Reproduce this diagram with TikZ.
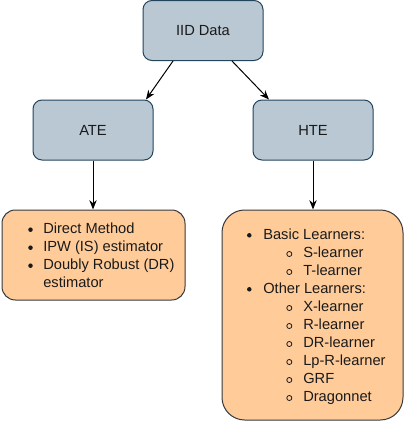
\documentclass[tikz,border=0pt]{standalone}
\usepackage{fontspec}
\setmainfont{Liberation Sans}
\usetikzlibrary{arrows.meta,calc}
\definecolor{bluebox}{HTML}{BAC8D3}
\definecolor{blueedge}{HTML}{23445D}
\definecolor{orangebox}{HTML}{FFCC99}
\definecolor{orangeedge}{HTML}{36393D}
\definecolor{txt}{HTML}{1A1A1A}
\begin{document}
\begin{tikzpicture}[x=0.75pt,y=-0.75pt,
  topbox/.style={draw=blueedge,fill=bluebox,line width=0.75pt,rounded corners=6.75pt,
    minimum width=90pt,minimum height=45pt,inner sep=0pt,
    font=\fontsize{11}{13}\selectfont,text=txt},
  listbox/.style={draw=orangeedge,fill=orangebox,line width=0.75pt,inner sep=0pt},
  item/.style={anchor=base west,inner sep=0pt,font=\fontsize{11}{13}\selectfont,text=txt},
  dotb/.style={circle,fill=txt,inner sep=0pt,minimum size=3.4pt},
  ringb/.style={circle,draw=txt,line width=0.6pt,inner sep=0pt,minimum size=3.8pt},
  conn/.style={draw=black,line width=0.75pt,-{Stealth[length=7pt,width=5.5pt]}}
]
\useasboundingbox (0,0) rectangle (404,421);
\node[topbox] (iid) at (203,30.5) {IID Data};
\node[topbox] (ate) at (93,130) {ATE};
\node[topbox] (hte) at (313,130) {HTE};
\node[listbox,rounded corners=10pt,minimum width=137.25pt,minimum height=67.5pt] (lbox) at (93.5,255) {};
\node[listbox,rounded corners=17pt,minimum width=135.75pt,minimum height=157.5pt] (rbox) at (312.5,315) {};

\coordinate (a1) at ($(iid.south)+(-30,0)$);
\coordinate (a2) at ($(ate.north)+(53,0)$);
\coordinate (b1) at ($(iid.south)+(29,0)$);
\coordinate (b2) at ($(hte.north)+(-44,0)$);
\draw[conn] (a1) -- (a2);
\draw[conn] (b1) -- (b2);
\draw[conn] (ate.south) -- (ate.south |- lbox.north);
\draw[conn] (hte.south) -- (hte.south |- rbox.north);

% left list
\node[dotb] (ld1) at (30.5,229.7) {};
\node[item] (lt1) at (43,233.7) {Direct Method};
\node[dotb] (ld2) at (30.5,247.7) {};
\node[item] (lt2) at (43,251.7) {IPW (IS) estimator};
\node[dotb] (ld3) at (30.5,265.7) {};
\node[item] (lt3) at (43,269.7) {Doubly Robust (DR)};
\node[item] (lt4) at (43,287.7) {estimator};

% right list
\node[dotb] (rd1) at (249.3,235.3) {};
\node[item] (rt1) at (263,239.3) {Basic Learners:};
\node[ringb] (rs1) at (289.3,254) {};
\node[item] (ru1) at (303,257.3) {S-learner};
\node[ringb] (rs2) at (289.3,272) {};
\node[item] (ru2) at (303,275.3) {T-learner};
\node[dotb] (rd2) at (249.3,289.3) {};
\node[item] (rt2) at (263,293.3) {Other Learners:};
\node[ringb] (rs3) at (289.3,308) {};
\node[item] (ru3) at (303,311.3) {X-learner};
\node[ringb] (rs4) at (289.3,326) {};
\node[item] (ru4) at (303,329.3) {R-learner};
\node[ringb] (rs5) at (289.3,344) {};
\node[item] (ru5) at (303,347.3) {DR-learner};
\node[ringb] (rs6) at (289.3,362) {};
\node[item] (ru6) at (303,365.3) {Lp-R-learner};
\node[ringb] (rs7) at (289.3,380) {};
\node[item] (ru7) at (303,383.3) {GRF};
\node[ringb] (rs8) at (289.3,398) {};
\node[item] (ru8) at (303,401.3) {Dragonnet};
\end{tikzpicture}
\end{document}
